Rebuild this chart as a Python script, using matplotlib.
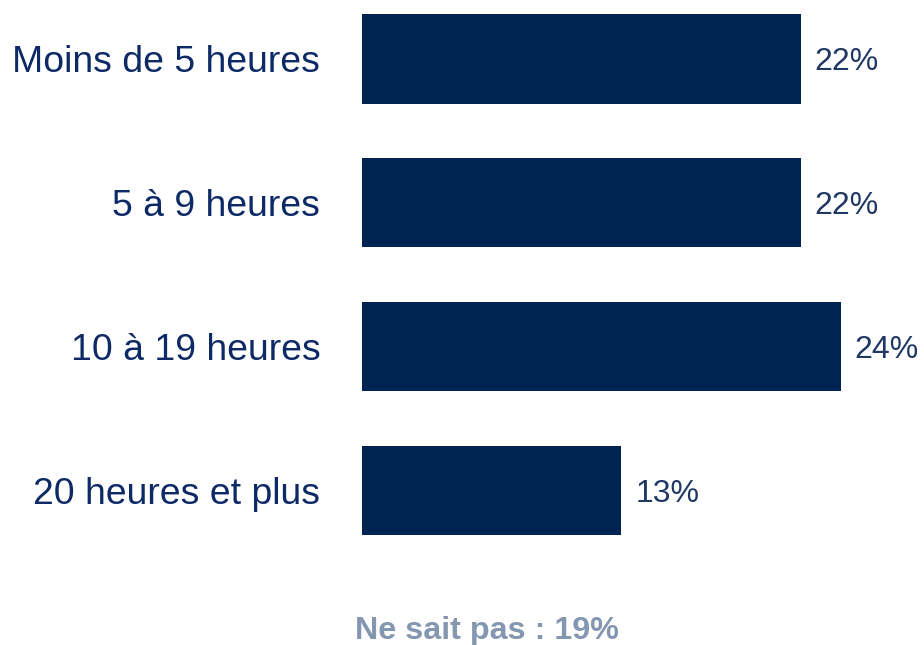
import matplotlib
matplotlib.use("Agg")
import matplotlib.pyplot as plt

categories = ["Moins de 5 heures", "5 à 9 heures", "10 à 19 heures", "20 heures et plus"]
values = [22, 22, 24, 13]
value_labels = ["22%", "22%", "24%", "13%"]
note = "Ne sait pas : 19%"

plt.rcParams['font.family'] = ['Liberation Sans', 'DejaVu Sans']

W, H = 924, 645
fig = plt.figure(figsize=(W / 100, H / 100), dpi=100)
ax_left = 362 / W
ax_width = 558.6 / W
ax_top = 1.0
ax_h = 562.5 / H
ax = fig.add_axes([ax_left, ax_top - ax_h, ax_width, ax_h])

bar_color = "#002451"
pos = list(range(len(categories)))
ax.barh(pos, values, height=0.62, color=bar_color)
ax.set_xlim(0, 28)
ax.set_ylim(3.5, -0.41)

ax.set_yticks(pos)
ax.set_yticklabels(categories, fontsize=26.9, color="#0d2a66", va="center_baseline")
ax.tick_params(axis="y", length=0, pad=30)
ax.set_xticks([])
for s in ax.spines.values():
    s.set_visible(False)

for p, v, lab in zip(pos, values, value_labels):
    ax.annotate(lab, xy=(v, p), xytext=(10, 0), textcoords="offset points",
                va="center_baseline", ha="left", fontsize=23, color="#1f3864")

fig.text(487 / W, 1 - 631 / H, note, ha="center", va="center", fontsize=23.2,
         fontweight="bold", color="#8497b0")

fig.savefig("out.png", dpi=100)
